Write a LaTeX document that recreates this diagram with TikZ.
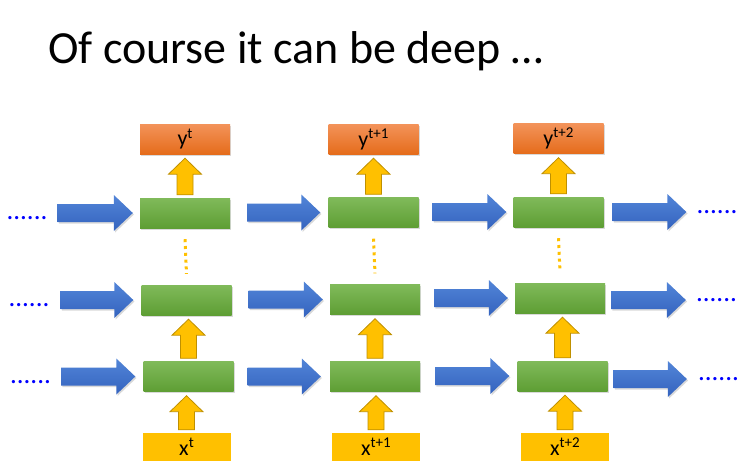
\documentclass[tikz,border=0pt]{standalone}
\usepackage{fontspec}
\setmainfont{Carlito}
\usepackage{xcolor}
\usetikzlibrary{calc,shadows}

\definecolor{bluetop}{HTML}{5285D8}
\definecolor{bluebot}{HTML}{3463BE}
\definecolor{greentop}{HTML}{80BA5A}
\definecolor{greenbot}{HTML}{5E9E34}
\definecolor{orangetop}{HTML}{F3935A}
\definecolor{orangebot}{HTML}{E56C1B}
\definecolor{gold}{HTML}{FFC000}
\definecolor{goldedge}{HTML}{BF9000}

% superscript time step
\newcommand{\tstep}[1]{\raisebox{.75ex}{\fontsize{15}{15}\selectfont #1}}
% block arrow to the right, between two nodes (gaps in pt)
\newcommand{\hblock}[4]{%
  \path[hblk] let \p1=(#1.east), \p2=(#2.west) in
    (\x1+#3pt,\y2-9pt) -- (\x2-#4pt-19pt,\y2-9pt) -- (\x2-#4pt-19pt,\y2-18pt)
    -- (\x2-#4pt,\y2) -- (\x2-#4pt-19pt,\y2+18pt) -- (\x2-#4pt-19pt,\y2+9pt)
    -- (\x1+#3pt,\y2+9pt) -- cycle;}
% block arrow upwards, between two nodes
\newcommand{\vblock}[2]{%
  \path[vblk] let \p1=(#1.north), \p2=(#2.south) in
    (\x1-8pt,\y1+3pt) -- (\x1-8pt,\y2-20pt) -- (\x1-16.5pt,\y2-20pt)
    -- (\x1,\y2-4pt) -- (\x1+16.5pt,\y2-20pt) -- (\x1+8pt,\y2-20pt)
    -- (\x1+8pt,\y1+3pt) -- cycle;}

\begin{document}
\begin{tikzpicture}[x=1pt,y=-1pt,
softshadow/.style={drop shadow={opacity=.3,shadow xshift=1.2pt,shadow yshift=-1.5pt}},
cell/.style={minimum width=90pt,minimum height=30pt,inner sep=0pt,top color=greentop,bottom color=greenbot,softshadow},
outbox/.style={cell,top color=orangetop,bottom color=orangebot,font=\fontsize{22}{24}\selectfont},
inbox/.style={minimum width=88pt,minimum height=28pt,inner sep=0pt,fill=gold,font=\fontsize{22}{24}\selectfont},
etc/.style={inner sep=0pt,text=blue,font=\fontsize{27}{30}\selectfont},
hblk/.style={top color=bluetop,bottom color=bluebot,softshadow},
vblk/.style={draw=goldedge,line width=.8pt,fill=gold,line join=miter},
vdots/.style={draw=gold,line width=3pt,dash pattern=on 3pt off 3.8pt}
]
\useasboundingbox (0,0) rectangle (750,475);
\node[anchor=base west,inner sep=0pt,font=\fontsize{46}{52}\selectfont] (title) at (48,63) {Of course it can be deep …};

% outputs
\node[outbox] (y1) at (185,139) {y\tstep{t}};
\node[outbox] (y2) at (373.5,139) {y\tstep{t+1}};
\node[outbox] (y3) at (558.5,138.5) {y\tstep{t+2}};
% layers
\node[cell] (l3a) at (185,213) {};
\node[cell] (l3b) at (373.5,212.5) {};
\node[cell] (l3c) at (558.5,212) {};
\node[cell] (l2a) at (186.5,300) {};
\node[cell] (l2b) at (375,299.5) {};
\node[cell] (l2c) at (560,298) {};
\node[cell] (l1a) at (188.5,376.5) {};
\node[cell] (l1b) at (375,376.5) {};
\node[cell] (l1c) at (562.5,376) {};
% inputs
\node[inbox] (x1) at (186.5,447) {x\tstep{t}};
\node[inbox] (x2) at (376,447) {x\tstep{t+1}};
\node[inbox] (x3) at (565,447) {x\tstep{t+2}};
% dots
\node[etc] (dl3) at (27,218) {......};
\node[etc] (dl2) at (29,305) {......};
\node[etc] (dl1) at (30.5,382) {......};
\node[etc] (dr3) at (717,212) {......};
\node[etc] (dr2) at (716.5,300) {......};
\node[etc] (dr1) at (718.5,379) {......};

% arrows through time
\hblock{dl3}{l3a}{10}{7}
\hblock{l3a}{l3b}{17}{8}
\hblock{l3b}{l3c}{14}{7}
\hblock{l3c}{dr3}{9}{10}
\hblock{dl2}{l2a}{11}{8}
\hblock{l2a}{l2b}{17}{7}
\hblock{l2b}{l2c}{14}{7}
\hblock{l2c}{dr2}{6}{10}
\hblock{dl1}{l1a}{10}{8}
\hblock{l1a}{l1b}{14}{9}
\hblock{l1b}{l1c}{15}{8}
\hblock{l1c}{dr1}{6}{11}

% arrows upwards
\vblock{x1}{l1a}
\vblock{x2}{l1b}
\vblock{x3}{l1c}
\vblock{l1a}{l2a}
\vblock{l1b}{l2b}
\vblock{l1c}{l2c}
\vblock{l3a}{y1}
\vblock{l3b}{y2}
\vblock{l3c}{y3}

\draw[vdots] ($(l3a.south)+(0,11)$) -- ($(l2a.north)+(0,-11)$);
\draw[vdots] ($(l3b.south)+(0,11)$) -- ($(l2b.north)+(0,-11)$);
\draw[vdots] ($(l3c.south)+(0,11)$) -- ($(l2c.north)+(0,-11)$);
\end{tikzpicture}
\end{document}
